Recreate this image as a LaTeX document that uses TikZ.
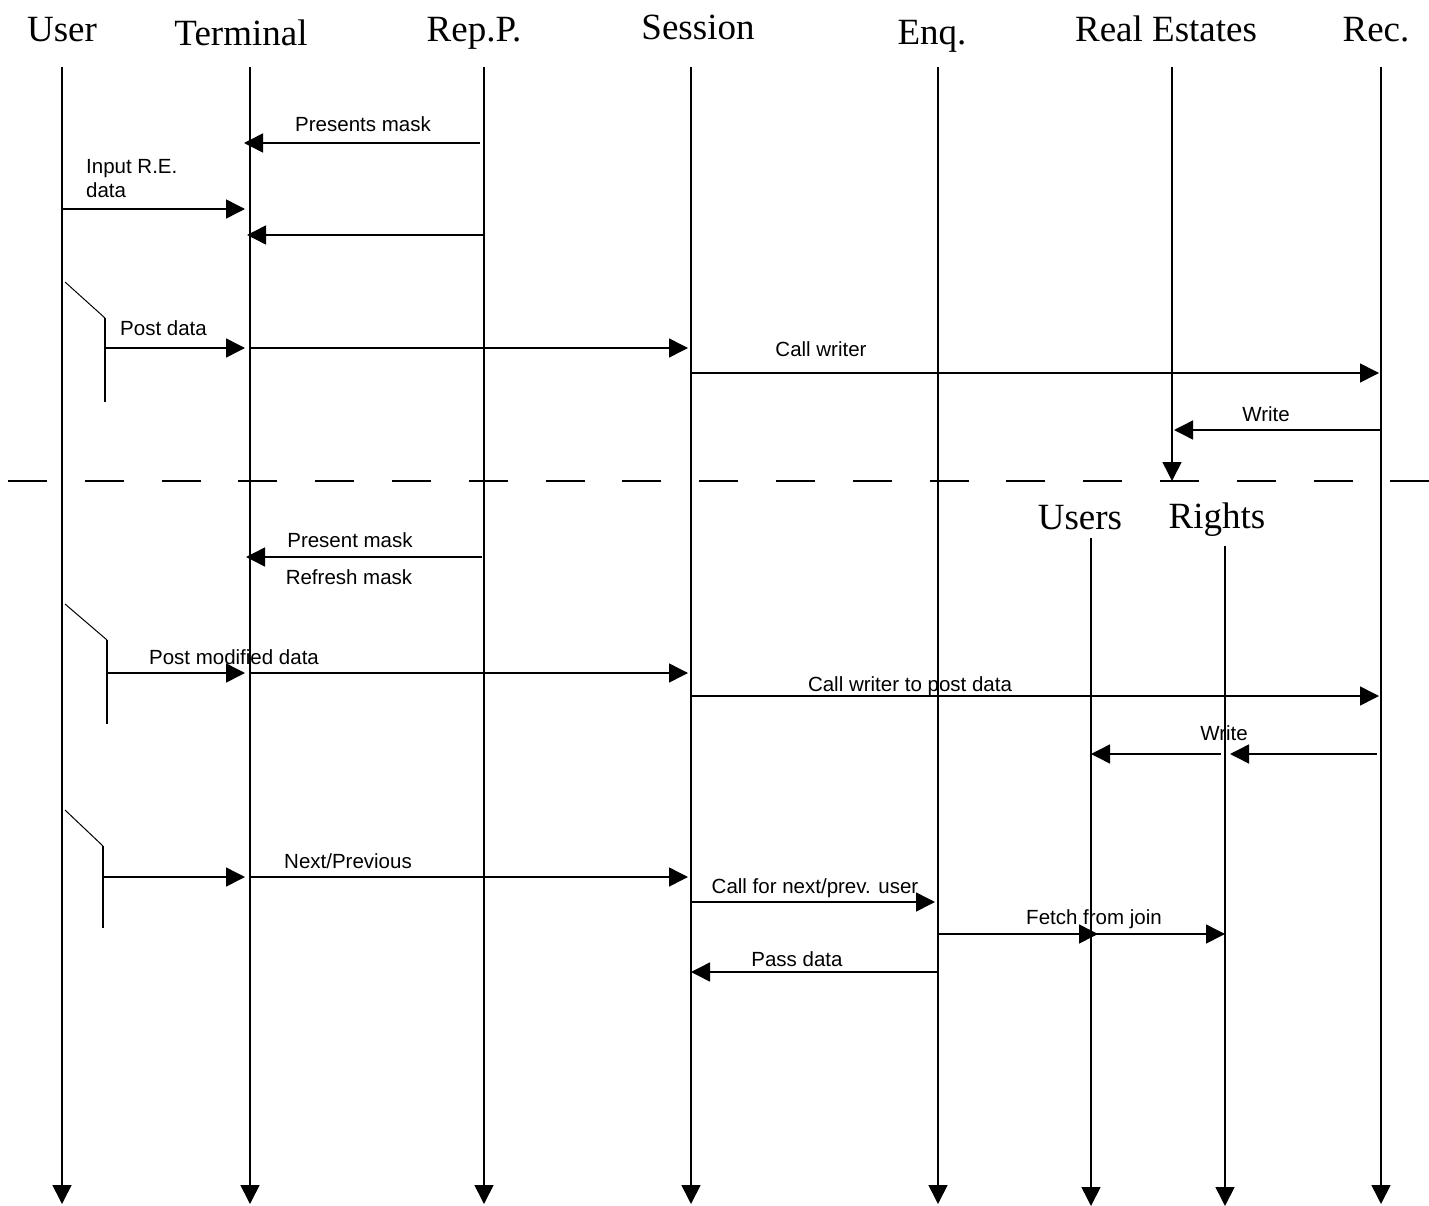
\documentclass[tikz,border=0pt]{standalone}
\usepackage{fontspec}
\setmainfont{Liberation Serif}
\newfontfamily\lblfont{Liberation Sans}
\usetikzlibrary{arrows.meta}
\tikzset{
  life/.style={line width=1.6pt, -{Triangle[length=19pt,width=19pt]}},
  msg/.style={line width=1.5pt, -{Triangle[length=19pt,width=19pt]}},
  hdr/.style={font=\fontsize{37}{40}\selectfont, anchor=base, inner sep=0pt},
  lbl/.style={font=\lblfont\fontsize{20.5}{24}\selectfont, anchor=base, inner sep=0pt},
  lblw/.style={lbl, anchor=base west},
  actbar/.style={line width=1.6pt},
  slant/.style={line width=1pt},
}
\begin{document}
\begin{tikzpicture}[x=1pt,y=-1pt]
\useasboundingbox (0,0) rectangle (1429,1206);
% headers
\node[hdr] (hUser) at (62,42) {User};
\node[hdr] (hTerm) at (241,46) {Terminal};
\node[hdr] (hRep) at (474,42) {Rep.P.};
\node[hdr] (hSess) at (698,40) {Session};
\node[hdr] (hEnq) at (932,45) {Enq.};
\node[hdr] (hRE) at (1166,42) {Real Estates};
\node[hdr] (hRec) at (1376,42) {Rec.};
\node[hdr] (hUsers) at (1080,529) {Users};
\node[hdr] (hRights) at (1217,528) {Rights};
% lifeline tops and ends
\coordinate (user) at (62,67);   \coordinate (userE) at (62,1204);
\coordinate (term) at (250,67);  \coordinate (termE) at (250,1204);
\coordinate (rep) at (484,67);   \coordinate (repE) at (484,1204);
\coordinate (sess) at (691,67);  \coordinate (sessE) at (691,1204);
\coordinate (enq) at (938,67);   \coordinate (enqE) at (938,1204);
\coordinate (re) at (1172,67);   \coordinate (reE) at (1172,481);
\coordinate (rec) at (1381,67);  \coordinate (recE) at (1381,1204);
\coordinate (usr) at (1091,538); \coordinate (usrE) at (1091,1206);
\coordinate (rig) at (1225,546); \coordinate (rigE) at (1225,1206);
\foreach \a/\b in {user/userE,term/termE,rep/repE,sess/sessE,enq/enqE,re/reE,rec/recE,usr/usrE,rig/rigE}
  \draw[life] (\a) -- (\b);
% dashed separator
\coordinate (dashL) at (8,481);
\coordinate (dashR) at (1429,481);
\draw[line width=1.5pt, dash pattern=on 39pt off 37.8pt] (dashL) -- (dashR);
% activation markers
\coordinate (a1s) at (65,282); \coordinate (a1k) at (105,318); \coordinate (a1e) at (105,402); \coordinate (a1m) at (105,348);
\coordinate (a2s) at (65,604); \coordinate (a2k) at (107,640); \coordinate (a2e) at (107,724); \coordinate (a2m) at (107,673);
\coordinate (a3s) at (65,810); \coordinate (a3k) at (103,846); \coordinate (a3e) at (103,928); \coordinate (a3m) at (103,877);
\draw[slant] (a1s) -- (a1k); \draw[actbar] (a1k) -- (a1e);
\draw[slant] (a2s) -- (a2k); \draw[actbar] (a2k) -- (a2e);
\draw[slant] (a3s) -- (a3k); \draw[actbar] (a3k) -- (a3e);
% messages
\draw[msg, shorten >=-6pt, shorten <=4pt] (rep |- 0,143) -- (term |- 0,143);
\node[lbl] (l1) at (363,132) {Presents mask};
\draw[msg, shorten >=5pt] (user |- 0,209) -- (term |- 0,209);
\node[lblw] (l2a) at (86,174) {Input R.E.};
\node[lblw] (l2b) at (86,198) {data};
\draw[msg, shorten >=-3pt] (rep |- 0,235) -- (term |- 0,235);
\draw[msg, shorten >=5pt] (a1m) -- (term |- a1m);
\draw[msg, shorten >=3pt] (term |- a1m) -- (sess |- a1m);
\node[lblw] (l3) at (120,335) {Post data};
\draw[msg, shorten >=2pt] (sess |- 0,373) -- (rec |- 0,373);
\node[lbl] (l4) at (821,356) {Call writer};
\draw[msg, shorten >=2pt] (rec |- 0,430) -- (re |- 0,430);
\node[lbl] (l5) at (1266,421) {Write};
\draw[msg, shorten >=-4pt, shorten <=2pt] (rep |- 0,557) -- (term |- 0,557);
\node[lbl] (l6a) at (350,547) {Present mask};
\node[lbl] (l6b) at (349,584) {Refresh mask};
\draw[msg, shorten >=5pt] (a2m) -- (term |- a2m);
\draw[msg, shorten >=3pt] (term |- a2m) -- (sess |- a2m);
\node[lbl] (l7) at (234,664) {Post modified data};
\draw[msg, shorten >=2pt] (sess |- 0,696) -- (rec |- 0,696);
\node[lbl] (l8) at (910,691) {Call writer to post data};
\draw[msg, shorten >=5pt, shorten <=4pt] (rec |- 0,754) -- (rig |- 0,754);
\draw[msg, shorten <=4pt] (rig |- 0,754) -- (usr |- 0,754);
\node[lbl] (l9) at (1224,740) {Write};
\draw[msg, shorten >=5pt] (a3m) -- (term |- a3m);
\draw[msg, shorten >=3pt] (term |- a3m) -- (sess |- a3m);
\node[lbl] (l10) at (348,868) {Next/Previous};
\draw[msg, shorten >=3pt] (sess |- 0,902) -- (enq |- 0,902);
\node[lbl] (l11) at (815,893) {Call for next/prev. user};
\draw[msg, shorten >=-7pt] (enq |- 0,934) -- (usr |- 0,934);
\draw[msg] (usr |- 0,934) -- (rig |- 0,934);
\node[lbl] (l12) at (1094,924) {Fetch from join};
\draw[msg] (enq |- 0,972) -- (sess |- 0,972);
\node[lbl] (l13) at (797,966) {Pass data};
\end{tikzpicture}
\end{document}
